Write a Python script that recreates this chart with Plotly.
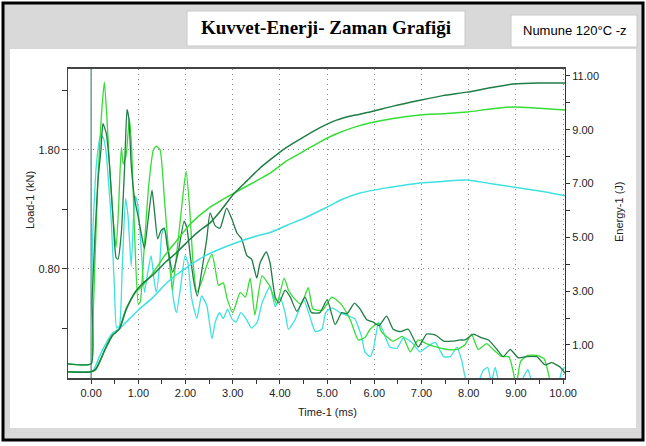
import plotly.graph_objects as go

# ---------------- data ----------------
time_load_dark = [-0.5, 0.0, 0.02, 0.14, 0.21, 0.25, 0.32, 0.39, 0.46, 0.53, 0.57, 0.64, 0.71, 0.76, 0.80,
                  0.85, 0.92, 0.99, 1.06, 1.13, 1.20, 1.29, 1.35, 1.41, 1.48, 1.55, 1.62, 1.73, 1.84, 1.97,
                  2.03, 2.10, 2.18, 2.25, 2.34, 2.45, 2.52, 2.63, 2.73, 2.87, 2.98, 3.09, 3.19, 3.30, 3.40,
                  3.51, 3.58, 3.71, 3.79, 3.90, 3.98, 4.11, 4.22, 4.36, 4.53, 4.67, 4.85, 5.00, 5.17, 5.31,
                  5.42, 5.58, 5.70, 5.84, 5.98, 6.10, 6.26, 6.40, 6.55, 6.72, 6.93, 7.11, 7.30, 7.47, 7.65,
                  7.82, 7.92, 8.10, 8.26, 8.42, 8.60, 8.73, 8.88, 9.05, 9.23, 9.44, 9.62, 9.76, 9.94, 10.04]
load_dark = [0.0, 0.0, 0.55, 1.52, 1.81, 2.02, 1.94, 1.67, 1.25, 0.89, 0.88, 1.10, 1.66, 2.14, 2.06,
             1.67, 1.39, 1.25, 1.10, 0.97, 1.19, 1.46, 1.25, 1.05, 1.12, 1.14, 0.97, 0.77, 0.93, 1.20,
             1.14, 0.91, 0.68, 0.57, 0.77, 1.05, 1.27, 1.16, 1.14, 1.31, 1.22, 1.10, 1.05, 0.91, 0.88,
             0.72, 0.85, 0.94, 0.85, 0.56, 0.51, 0.62, 0.56, 0.44, 0.56, 0.43, 0.43, 0.54, 0.33, 0.43,
             0.42, 0.51, 0.46, 0.37, 0.35, 0.32, 0.40, 0.29, 0.27, 0.29, 0.14, 0.25, 0.24, 0.19, 0.19,
             0.20, 0.20, 0.25, 0.22, 0.20, 0.12, 0.06, 0.12, 0.05, 0.06, 0.06, -0.01, 0.01, -0.03, -0.08]

time_load_light = [-0.5, 0.0, 0.03, 0.08, 0.15, 0.22, 0.28, 0.33, 0.39, 0.46, 0.53, 0.58, 0.64, 0.68, 0.74,
                   0.81, 0.86, 0.92, 1.00, 1.04, 1.12, 1.22, 1.32, 1.38, 1.46, 1.55, 1.64, 1.72, 1.80, 1.90,
                   2.01, 2.08, 2.16, 2.24, 2.35, 2.47, 2.56, 2.63, 2.70, 2.80, 2.88, 3.00, 3.16, 3.27, 3.37,
                   3.47, 3.62, 3.79, 3.93, 4.09, 4.18, 4.28, 4.45, 4.60, 4.70, 4.90, 5.10, 5.30, 5.49, 5.66,
                   5.80, 5.91, 6.08, 6.15, 6.40, 6.60, 6.76, 6.93, 7.10, 7.33, 7.55, 7.75, 7.92, 8.06, 8.20,
                   8.38, 8.52, 8.70, 8.85, 8.96, 9.00, 9.10, 9.25, 9.45, 9.60, 9.70, 9.75, 10.04]
load_light = [0.0, 0.0, 0.25, 0.85, 1.60, 2.10, 2.37, 2.10, 1.67, 1.25, 0.98, 1.30, 1.82, 1.68, 1.75,
              2.06, 1.80, 1.10, 0.50, 0.52, 0.95, 1.50, 1.80, 1.83, 1.80, 1.40, 0.95, 0.62, 0.88, 1.25,
              1.62, 1.35, 0.85, 0.60, 0.70, 0.85, 0.92, 0.80, 0.66, 0.68, 0.55, 0.43, 0.60, 0.56, 0.72,
              0.41, 0.74, 0.65, 0.50, 0.72, 0.62, 0.56, 0.50, 0.64, 0.46, 0.45, 0.56, 0.50, 0.37, 0.20,
              0.22, 0.29, 0.34, 0.27, 0.19, 0.23, 0.10, 0.20, 0.17, 0.14, 0.12, 0.12, 0.16, 0.25, 0.12,
              0.17, 0.12, 0.06, 0.06, -0.10, -0.20, 0.02, 0.07, 0.07, 0.04, -0.10, -0.20, -0.20]

time_load_cyan = [-0.5, 0.0, 0.01, 0.03, 0.11, 0.18, 0.21, 0.26, 0.32, 0.37, 0.42, 0.49, 0.54, 0.60, 0.66,
                  0.73, 0.78, 0.85, 0.90, 0.94, 0.99, 1.06, 1.13, 1.20, 1.27, 1.33, 1.38, 1.45, 1.50, 1.55,
                  1.62, 1.69, 1.74, 1.81, 1.90, 1.99, 2.05, 2.13, 2.24, 2.34, 2.45, 2.56, 2.63, 2.72, 2.80,
                  2.89, 2.98, 3.07, 3.17, 3.28, 3.40, 3.52, 3.62, 3.79, 3.90, 4.00, 4.11, 4.18, 4.32, 4.50,
                  4.64, 4.75, 4.89, 4.97, 5.10, 5.28, 5.45, 5.58, 5.73, 5.80, 5.91, 5.98, 6.09, 6.19, 6.33,
                  6.48, 6.62, 6.79, 6.97, 7.11, 7.29, 7.47, 7.61, 7.75, 7.85, 7.96, 8.20, 8.30, 8.40, 8.48,
                  8.56, 8.65, 9.10, 9.25, 9.35, 9.90, 9.98, 10.04]
load_cyan = [0.0, 0.0, 0.30, 1.05, 1.67, 1.89, 1.92, 1.90, 1.77, 1.52, 1.25, 0.68, 0.30, 0.32, 0.82,
             1.39, 1.25, 0.82, 1.25, 1.41, 1.33, 0.97, 0.60, 0.77, 0.91, 0.72, 0.60, 0.82, 1.10, 1.14,
             1.00, 0.80, 0.55, 0.43, 0.66, 0.91, 0.85, 0.55, 0.38, 0.57, 0.49, 0.21, 0.35, 0.43, 0.38,
             0.46, 0.38, 0.35, 0.43, 0.38, 0.30, 0.35, 0.51, 0.65, 0.48, 0.56, 0.43, 0.29, 0.37, 0.54,
             0.39, 0.27, 0.29, 0.43, 0.47, 0.43, 0.40, 0.38, 0.23, 0.10, 0.06, 0.12, 0.35, 0.27, 0.14,
             0.13, 0.22, 0.18, 0.10, 0.14, 0.18, 0.06, 0.06, 0.14, 0.03, -0.15, -0.15, -0.06, -0.03, -0.15,
             -0.03, -0.15, -0.15, -0.05, -0.15, -0.15, -0.05, -0.03]

time_energy_dark = [-0.5, 0.0, 0.1, 0.2, 0.3, 0.45, 0.6, 0.74, 0.95, 1.1, 1.31, 1.59, 1.80, 2.10, 2.30,
                    2.52, 2.75, 3.02, 3.30, 3.58, 3.79, 4.10, 4.50, 4.85, 5.20, 5.55, 5.91, 6.40, 6.97,
                    7.45, 7.96, 8.45, 8.94, 9.50, 10.04]
energy_dark = [0.0, 0.0, 0.1, 0.45, 0.85, 1.35, 1.6, 2.3, 3.0, 3.3, 3.6, 4.1, 4.42, 4.94, 5.25,
               5.54, 6.0, 6.61, 7.1, 7.58, 7.88, 8.3, 8.73, 9.08, 9.36, 9.53, 9.66, 9.88, 10.1,
               10.27, 10.4, 10.56, 10.70, 10.74, 10.74]

time_energy_light = [-0.5, 0.0, 0.1, 0.2, 0.3, 0.45, 0.6, 0.74, 0.95, 1.0, 1.3, 1.55, 1.8, 2.1, 2.5,
                     3.0, 3.5, 3.79, 4.15, 4.5, 4.85, 5.2, 5.55, 5.9, 6.4, 6.97, 7.45, 7.96, 8.45, 8.94,
                     9.5, 10.04]
energy_light = [0.0, 0.0, 0.1, 0.45, 0.85, 1.35, 1.6, 2.34, 3.0, 3.05, 3.65, 4.3, 4.85, 5.5, 6.1,
                6.62, 7.1, 7.39, 7.85, 8.2, 8.55, 8.85, 9.08, 9.25, 9.42, 9.55, 9.6, 9.66, 9.77, 9.85,
                9.8, 9.74]

time_energy_cyan = [-0.5, 0.0, 0.05, 0.18, 0.32, 0.46, 0.6, 0.8, 1.0, 1.3, 1.6, 1.8, 2.0, 2.4, 3.0,
                    3.5, 3.79, 4.15, 4.5, 4.96, 5.3, 5.7, 6.26, 6.6, 6.97, 7.45, 7.96, 8.45, 8.94, 9.5, 10.04]
energy_cyan = [0.0, 0.0, 0.05, 0.59, 1.07, 1.45, 1.6, 1.95, 2.3, 2.75, 3.3, 3.6, 3.85, 4.3, 4.75,
               5.05, 5.18, 5.45, 5.7, 6.09, 6.4, 6.65, 6.84, 6.93, 7.02, 7.08, 7.13, 7.0, 6.87, 6.72, 6.55]

x_tick_vals = [0, 1, 2, 3, 4, 5, 6, 7, 8, 9, 10]
x_tick_text = ["0.00", "1.00", "2.00", "3.00", "4.00", "5.00", "6.00", "7.00", "8.00", "9.00", "10.00"]
load_tick_vals = [0.8, 1.8]
load_tick_text = ["0.80", "1.80"]
energy_tick_vals = [1, 3, 5, 7, 9, 11]
energy_tick_text = ["1.00", "3.00", "5.00", "7.00", "9.00", "11.00"]

title_text = "Kuvvet-Enerji- Zaman Grafiği"
box_text = "Numune 120°C -z"
x_title = "Time-1 (ms)"
load_title = "Load-1 (kN)"
energy_title = "Energy-1 (J)"

# ---------------- styling ----------------
DARK = "#1f7d45"
LIGHT = "#35dd35"
CYAN = "#3ee0e0"
GRID_DASH = "1px,4px"

W, H = 646, 446
L, R, T, B = 68, 565, 69, 378


def px(x):
    return (x - L) / (R - L)


def py(y):
    return (B - y) / (B - T)


fig = go.Figure()

for tx, ty, col in [(time_load_cyan, load_cyan, CYAN),
                    (time_load_light, load_light, LIGHT),
                    (time_load_dark, load_dark, DARK)]:
    fig.add_trace(go.Scatter(x=tx, y=ty, mode="lines",
                             line=dict(color=col, width=1.3, shape="spline", smoothing=0.5),
                             yaxis="y", showlegend=False, hoverinfo="skip"))

for tx, ty, col in [(time_energy_cyan, energy_cyan, CYAN),
                    (time_energy_light, energy_light, LIGHT),
                    (time_energy_dark, energy_dark, DARK)]:
    fig.add_trace(go.Scatter(x=tx, y=ty, mode="lines",
                             line=dict(color=col, width=1.5, shape="spline", smoothing=0.6),
                             yaxis="y2", showlegend=False, hoverinfo="skip"))

tickfont = dict(family="Liberation Sans, Arial, sans-serif", size=11, color="#222222")

fig.update_layout(
    width=W, height=H,
    margin=dict(l=L, r=W - R, t=T, b=H - B, pad=0),
    paper_bgcolor="white",
    plot_bgcolor="white",
    xaxis=dict(range=[-0.49, 10.04], tickvals=x_tick_vals, ticktext=x_tick_text,
               ticks="outside", ticklen=4, tickcolor="#333333", tickfont=tickfont,
               showline=True, linecolor="#444444", linewidth=1.5, mirror=True,
               showgrid=True, gridcolor="#8a8a8a", griddash=GRID_DASH, gridwidth=1,
               zeroline=False,
               minor=dict(dtick=0.5, tick0=0, ticks="outside", ticklen=4, tickcolor="#333333",
                          showgrid=False)),
    yaxis=dict(range=[-0.12, 2.48], tickvals=load_tick_vals, ticktext=load_tick_text,
               ticks="outside", ticklen=5, tickcolor="#333333", tickfont=tickfont,
               showline=True, linecolor="#444444", linewidth=1,
               showgrid=True, gridcolor="#8a8a8a", griddash=GRID_DASH, gridwidth=1,
               zeroline=False,
               minor=dict(dtick=0.5, tick0=0.3, ticks="outside", ticklen=5, tickcolor="#333333",
                          showgrid=False)),
    yaxis2=dict(range=[-0.23, 11.26], tickvals=energy_tick_vals, ticktext=energy_tick_text,
                overlaying="y", side="right",
                ticks="outside", ticklen=4, tickcolor="#333333", tickfont=tickfont,
                showline=True, linecolor="#333333", linewidth=1.2,
                showgrid=False, zeroline=False,
                minor=dict(dtick=1, tick0=0, ticks="outside", ticklen=4, tickcolor="#333333")),
)

shapes = [
    # grey framed panel
    dict(type="rect", xref="paper", yref="paper", x0=px(3), x1=px(643), y0=py(440), y1=py(3),
         fillcolor="#d9d9d9", line=dict(color="black", width=3), layer="below"),
    # white chart panel
    dict(type="rect", xref="paper", yref="paper", x0=px(10), x1=px(636), y0=py(428), y1=py(49),
         fillcolor="white", line=dict(width=0), layer="below"),
    # title box
    dict(type="rect", xref="paper", yref="paper", x0=px(187), x1=px(465), y0=py(46), y1=py(11),
         fillcolor="white", line=dict(color="#c8c8c8", width=1), layer="below"),
    # sample box
    dict(type="rect", xref="paper", yref="paper", x0=px(511), x1=px(637), y0=py(47), y1=py(15),
         fillcolor="white", line=dict(color="#c8c8c8", width=1), layer="below"),
    # vertical line at time zero
    dict(type="line", xref="x", yref="paper", x0=0, x1=0, y0=0, y1=1,
         line=dict(color="#6e9c9c", width=1.5), layer="below"),
]
fig.update_layout(shapes=shapes)

axis_font = dict(family="Liberation Sans, Arial, sans-serif", size=11, color="#222222")
common = dict(xref="paper", yref="paper", showarrow=False, xanchor="center", yanchor="middle")
fig.update_layout(annotations=[
    dict(text="<b>" + title_text + "</b>", x=px(326), y=py(28),
         font=dict(family="Liberation Serif, Times New Roman, serif", size=19, color="black"), **common),
    dict(text=box_text, x=px(574), y=py(31),
         font=dict(family="Liberation Sans, Arial, sans-serif", size=13, color="black"), **common),
    dict(text=x_title, x=px(327), y=py(412), font=axis_font, **common),
    dict(text=load_title, x=px(30), y=py(200), textangle=-90, font=axis_font, **common),
    dict(text=energy_title, x=px(619), y=py(212), textangle=-90, font=axis_font, **common),
])

fig.write_html("out.html", config={"displayModeBar": False},
               post_script="document.body.style.margin='0';document.body.style.overflow='hidden';")
